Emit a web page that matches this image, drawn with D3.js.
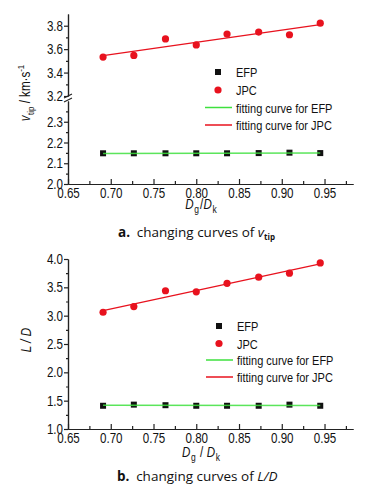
<!DOCTYPE html>
<html><head><meta charset="utf-8">
<script src="https://cdn.jsdelivr.net/npm/d3@7"></script>
<style>
body{margin:0;background:#fff}
svg text{font-family:"Liberation Sans",Arial,sans-serif;fill:#111}
svg text.cap{font-family:"Open Sans","Noto Sans",sans-serif}
</style></head><body>
<svg width="370" height="492"></svg>
<script>
// Dg/Dk values
var ratio = [0.691, 0.727, 0.764, 0.800, 0.836, 0.873, 0.909, 0.945];
// (a) v_tip, km/s
var vtipEFP = [2.148, 2.148, 2.148, 2.148, 2.148, 2.149, 2.151, 2.149];
var vtipJPC = [3.532, 3.546, 3.687, 3.636, 3.729, 3.746, 3.723, 3.822];
// (b) L/D
var ldEFP = [1.41, 1.43, 1.42, 1.41, 1.41, 1.41, 1.43, 1.41];
var ldJPC = [3.06, 3.16, 3.44, 3.42, 3.57, 3.68, 3.75, 3.93];

var xTicks = [0.65, 0.70, 0.75, 0.80, 0.85, 0.90, 0.95];
var xMinor = [0.675, 0.725, 0.775, 0.825, 0.875, 0.925, 0.975];
var yaLowTicks = [2.0, 2.1, 2.2, 2.3];
var yaLowMinor = [2.05, 2.15, 2.25, 2.35];
var yaHighTicks = [3.2, 3.4, 3.6, 3.8];
var yaHighMinor = [3.3, 3.5, 3.7];
var ybTicks = [1.0, 1.5, 2.0, 2.5, 3.0, 3.5, 4.0];
var ybMinor = [1.25, 1.75, 2.25, 2.75, 3.25, 3.75];
var legendNames = ["EFP", "JPC", "fitting curve for EFP", "fitting curve for JPC"];

var svg = d3.select("svg");
var green = "#3ee03e", red = "#e8121e";
var fs = 11.6, stretch = 1.22; // the original labels are tall and narrow

var x = d3.scaleLinear().domain([0.65, 0.9833]).range([68, 353]);

// least squares fit
function fit(xs, ys) {
  var mx = d3.mean(xs), my = d3.mean(ys);
  var sxy = d3.sum(xs, function(d, i) { return (d - mx) * (ys[i] - my); });
  var sxx = d3.sum(xs, function(d) { return (d - mx) * (d - mx); });
  var b = sxy / sxx, a = my - b * mx;
  return function(v) { return a + b * v; };
}

// stretch text vertically around its own anchor point
function tall(sel) {
  sel.each(function() {
    var t = d3.select(this);
    var tx = +t.attr("x") || 0, ty = +t.attr("y") || 0;
    var pre = t.attr("transform") || "";
    t.attr("x", 0).attr("y", 0)
      .attr("transform", pre + " translate(" + tx + "," + ty + ") scale(1," + stretch + ")");
  });
}

function xAxis(y0) {
  var g = svg.append("g").attr("transform", "translate(0," + y0 + ")");
  g.call(d3.axisBottom(x).tickValues(xMinor).tickSize(-3).tickSizeOuter(0).tickFormat(""));
  g.append("g").call(d3.axisBottom(x).tickValues(xTicks).tickSize(-5).tickSizeOuter(0)
      .tickPadding(4).tickFormat(d3.format(".2f")));
  styleAxis(g);
}

function yAxis(y, major, minor, fmt) {
  var g = svg.append("g").attr("transform", "translate(68,0)");
  g.call(d3.axisLeft(y).tickValues(minor).tickSize(2).tickSizeOuter(0).tickFormat(""));
  g.append("g").call(d3.axisLeft(y).tickValues(major).tickSize(4).tickSizeOuter(0)
      .tickPadding(1).tickFormat(d3.format(fmt)));
  styleAxis(g);
}

function styleAxis(g) {
  g.selectAll("path,line").attr("stroke", "#222").attr("stroke-width", 1.2);
  g.selectAll("text").attr("font-size", fs).attr("fill", "#111").call(tall);
}

function series(ys, yScale, fitColor, kind) {
  var f = fit(ratio, ys);
  var g = svg.append("g");
  var line = d3.line().x(function(d) { return x(d); }).y(function(d) { return yScale(f(d)); });
  if (kind == "sq") {
    g.selectAll("rect").data(ratio).enter().append("rect")
      .attr("x", function(d) { return x(d) - 3; })
      .attr("y", function(d, i) { return yScale(ys[i]) - 3; })
      .attr("width", 6).attr("height", 6).attr("fill", "#111");
    g.append("path").datum([ratio[0], ratio[ratio.length - 1]])
      .attr("d", line).attr("stroke", fitColor).attr("stroke-width", 1.5).attr("fill", "none")
      .attr("opacity", 0.85);
  } else {
    g.append("path").datum([ratio[0], ratio[ratio.length - 1]])
      .attr("d", line).attr("stroke", fitColor).attr("stroke-width", 1.3).attr("fill", "none");
    g.selectAll("circle").data(ratio).enter().append("circle")
      .attr("cx", function(d) { return x(d); })
      .attr("cy", function(d, i) { return yScale(ys[i]); })
      .attr("r", 3.6).attr("fill", red);
  }
}

function legend(lx, ys) {
  var g = svg.append("g");
  g.append("rect").attr("x", lx - 3).attr("y", ys[0] - 3).attr("width", 6).attr("height", 6).attr("fill", "#111");
  g.append("circle").attr("cx", lx).attr("cy", ys[1]).attr("r", 3.6).attr("fill", red);
  g.append("line").attr("x1", lx - 13).attr("x2", lx + 14).attr("y1", ys[2]).attr("y2", ys[2])
    .attr("stroke", green).attr("stroke-width", 1.5);
  g.append("line").attr("x1", lx - 13).attr("x2", lx + 14).attr("y1", ys[3]).attr("y2", ys[3])
    .attr("stroke", red).attr("stroke-width", 1.5);
  g.selectAll("text").data(legendNames).enter().append("text")
    .attr("x", lx + 18).attr("y", function(d, i) { return ys[i] + 5; })
    .attr("font-size", 11).text(function(d) { return d; })
    .call(tall);
}

// D_g/D_k style label, sp = separator
function ratioLabel(px, py, sp) {
  var t = svg.append("text").attr("x", px).attr("y", py).attr("text-anchor", "middle").attr("font-size", fs);
  t.append("tspan").attr("font-style", "italic").text("D");
  t.append("tspan").attr("font-size", 8.5).attr("dx", 0.5).attr("dy", 3.5).text("g");
  t.append("tspan").attr("dx", 1).attr("dy", -3.5).text(sp);
  t.append("tspan").attr("font-style", "italic").attr("dx", 0.5).text("D");
  t.append("tspan").attr("font-size", 8.5).attr("dx", 0.5).attr("dy", 3.5).text("k");
  t.call(tall);
}

// ---------- chart a ----------
var yaLow = d3.scaleLinear().domain([2.0, 2.4]).range([184, 101]);
var yaHigh = d3.scaleLinear().domain([3.2, 3.9]).range([96, 14]);

yAxis(yaLow, yaLowTicks, yaLowMinor, ".1f");
yAxis(yaHigh, yaHighTicks, yaHighMinor, ".1f");
xAxis(184);
// axis break mark
svg.append("path").attr("d", "M64,98 L72,94 M64,102 L72,98")
  .attr("stroke", "#222").attr("stroke-width", 1.1).attr("fill", "none");

series(vtipEFP, yaLow, green, "sq");
series(vtipJPC, yaHigh, red, "ci");
legend(218, [72, 90, 107.5, 125]);

var ta = svg.append("text").attr("transform", "translate(30,93) rotate(-90)")
  .attr("text-anchor", "middle").attr("font-size", fs);
ta.append("tspan").attr("font-style", "italic").text("v");
ta.append("tspan").attr("font-size", 8).attr("dx", 0.5).attr("dy", 3).text("tip");
ta.append("tspan").attr("dy", -3).text(" / km\u00b7s");
ta.append("tspan").attr("font-size", 8).attr("dy", -5).text("-1");
ta.call(tall);

ratioLabel(201, 209, "/");

var ca = svg.append("text").attr("class", "cap").attr("x", 118).attr("y", 237).attr("font-size", 13.5);
ca.append("tspan").attr("font-weight", "bold").text("a.");
ca.append("tspan").text("\u2002changing curves of ");
ca.append("tspan").attr("font-style", "italic").text("v");
ca.append("tspan").attr("font-size", 8).attr("font-weight", "bold").attr("dy", 3).text("tip");

// ---------- chart b ----------
var yb = d3.scaleLinear().domain([1.0, 4.0]).range([429, 259]);
yAxis(yb, ybTicks, ybMinor, ".1f");
xAxis(429);

series(ldEFP, yb, green, "sq");
series(ldJPC, yb, red, "ci");
legend(219, [326, 343.5, 360, 377]);

svg.append("text").attr("transform", "translate(31,340) rotate(-90)")
  .attr("text-anchor", "middle").attr("font-size", fs).attr("font-style", "italic").text("L / D")
  .call(tall);

ratioLabel(201, 457, " / ");

var cb = svg.append("text").attr("class", "cap").attr("x", 117).attr("y", 481).attr("font-size", 13.5);
cb.append("tspan").attr("font-weight", "bold").text("b.");
cb.append("tspan").text("\u2002changing curves of ");
cb.append("tspan").attr("font-style", "italic").text("L/D");
</script>
</body></html>
